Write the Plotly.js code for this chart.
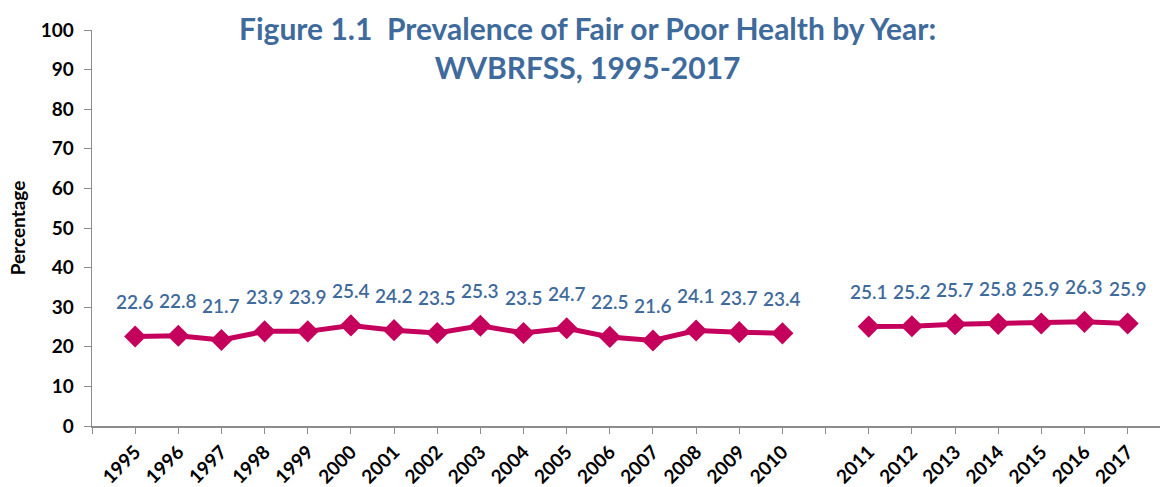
<!DOCTYPE html>
<html>
<head>
<meta charset="utf-8">
<script src="https://cdn.plot.ly/plotly-3.0.1.min.js"></script>
<style>
  html, body { margin: 0; padding: 0; background: #fff; }
  #chart { width: 1166px; height: 487px; }
</style>
</head>
<body>
<div id="chart"></div>
<script>
// Fair or poor health, WVBRFSS 1995-2017 (break in the series between 2010 and 2011)
const years1 = [1995, 1996, 1997, 1998, 1999, 2000, 2001, 2002, 2003, 2004, 2005, 2006, 2007, 2008, 2009, 2010];
const pct1 = [22.6, 22.8, 21.7, 23.9, 23.9, 25.4, 24.2, 23.5, 25.3, 23.5, 24.7, 22.5, 21.6, 24.1, 23.7, 23.4];
const years2 = [2011, 2012, 2013, 2014, 2015, 2016, 2017];
const pct2 = [25.1, 25.2, 25.7, 25.8, 25.9, 26.3, 25.9];
const yTicks = [0, 10, 20, 30, 40, 50, 60, 70, 80, 90, 100];

const lineColor = '#C4005C';
const labelColor = '#3F6A9C';
const font = 'Lato, "Open Sans", sans-serif';

// axis slot positions: one empty slot before 1995 and one between 2010 and 2011
const x1 = years1.map((y, i) => i);
const x2 = years2.map((y, i) => years1.length + 1 + i);

const tickvals = [-1].concat(x1, [years1.length], x2);
const ticktext = [''].concat(years1.map(String), [''], years2.map(String));

const trace = (x, y) => ({
  x: x,
  y: y,
  type: 'scatter',
  mode: 'lines+markers',
  line: { color: lineColor, width: 5 },
  marker: { symbol: 'diamond', size: 17, color: lineColor },
  hoverinfo: 'x+y',
  showlegend: false
});

const labels = [];
x1.concat(x2).forEach((x, i) => {
  const v = pct1.concat(pct2)[i];
  labels.push({
    x: x, y: v, text: v.toFixed(1), showarrow: false,
    yshift: 35, font: { family: font, size: 19, color: labelColor, weight: 600 }
  });
});

// title drawn as a paper annotation so both lines sit over the top of the plot
labels.push({
  xref: 'paper', yref: 'paper', x: 0.464, y: 1.055, xanchor: 'center', yanchor: 'top',
  showarrow: false, align: 'center',
  text: '<b>Figure 1.1  Prevalence of Fair or Poor Health by Year:<br>WVBRFSS, 1995-2017</b>',
  font: { family: font, size: 30, color: labelColor }
});

const layout = {
  width: 1166,
  height: 487,
  margin: { l: 92, r: 6, t: 30, b: 61 },
  paper_bgcolor: '#fff',
  plot_bgcolor: '#fff',
  xaxis: {
    range: [-1, 23.75],
    tickmode: 'array',
    tickvals: tickvals,
    ticktext: ticktext,
    tickangle: -45,
    tickfont: { family: font, size: 19, color: '#000', weight: 'bold' },
    ticks: 'outside', ticklen: 6, tickcolor: '#8c8c8c',
    showline: true, linecolor: '#8c8c8c', linewidth: 1.5,
    showgrid: false, zeroline: false, fixedrange: true
  },
  yaxis: {
    range: [0, 100],
    tickmode: 'array',
    tickvals: yTicks,
    tickfont: { family: font, size: 19, color: '#000', weight: 'bold' },
    ticks: 'outside', ticklen: 7, tickcolor: '#8c8c8c',
    ticklabelstandoff: 6,
    showline: true, linecolor: '#8c8c8c', linewidth: 1.5,
    showgrid: false, zeroline: false, fixedrange: true,
    title: { text: '<b>Percentage</b>', font: { family: font, size: 19, color: '#000' }, standoff: 10 }
  },
  annotations: labels
};

Plotly.newPlot('chart', [trace(x1, pct1), trace(x2, pct2)], layout, { displayModeBar: false, staticPlot: true });
</script>
</body>
</html>
